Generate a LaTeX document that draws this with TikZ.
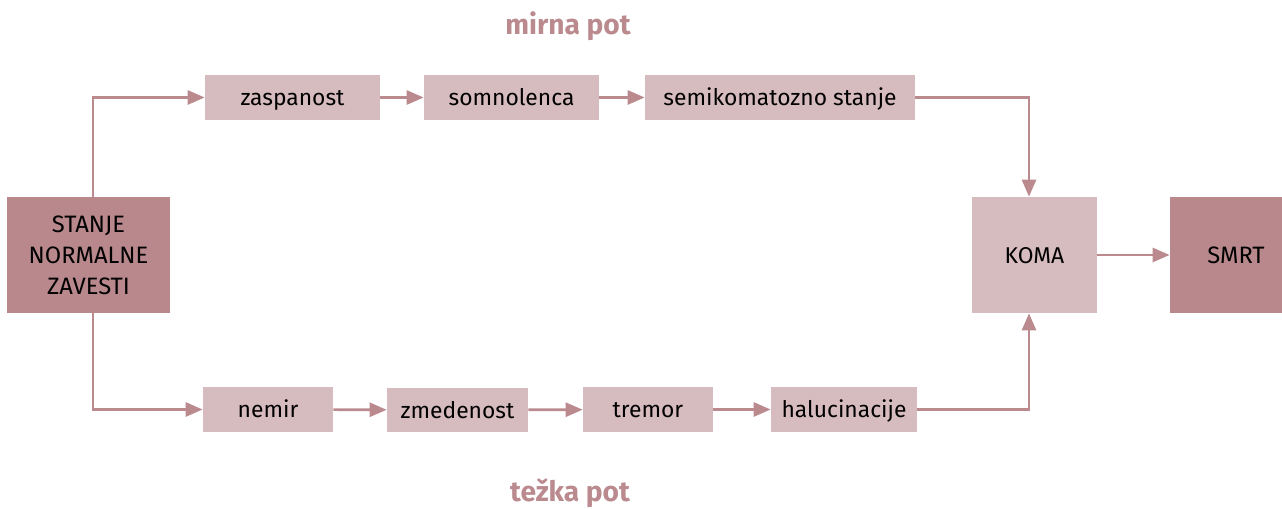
\documentclass[tikz,border=0pt]{standalone}
\usepackage{fontspec}
\setmainfont{Fira Sans}
\usetikzlibrary{arrows.meta}
\definecolor{temna}{HTML}{B8888C}
\definecolor{svetla}{HTML}{D7BCBF}
\definecolor{crta}{HTML}{BA8A8F}
\tikzset{
  korak/.style={fill=svetla, minimum height=0.9cm, inner sep=0pt, text height=2.2ex, text depth=0.45ex, font=\fontsize{13}{15}\selectfont},
  stanje/.style={fill=temna, minimum width=3.26cm, minimum height=2.32cm, inner sep=0pt, align=center, font=\fontsize{13.5}{17.6}\selectfont},
  pot/.style={text=crta, font=\fontsize{16}{18}\selectfont\bfseries},
  puscica/.style={draw=crta, line width=1.5pt, -{Triangle[length=0.34cm,width=0.28cm]}}
}
\begin{document}
\begin{tikzpicture}[x=0.02cm, y=-0.02cm]
		\useasboundingbox (0,0) rectangle (1282,509);
		\node[pot] (mirna) at (568,26) {mirna pot};
		\node[pot] (tezka) at (570,493) {težka pot};
		\node[stanje] (zavest) at (88.5,255) {STANJE\\NORMALNE\\ZAVESTI};
		\node[korak, minimum width=3.5cm] (zaspanost) at (292.5,97.5) {zaspanost};
		\node[korak, minimum width=3.5cm] (somnolenca) at (511.5,97.5) {somnolenca};
		\node[korak, minimum width=5.4cm] (semikoma) at (780,97.5) {semikomatozno stanje};
		\node[korak, minimum width=2.5cm, minimum height=2.32cm] (koma) at (1034.5,255) {KOMA};
		\node[stanje, minimum width=2.24cm] (smrt) at (1226,255) {\hspace*{0.4cm}SMRT};
		\node[korak, minimum width=2.6cm] (nemir) at (268,409.5) {nemir};
		\node[korak, minimum width=2.82cm] (zmedenost) at (457.5,410) {zmedenost};
		\node[korak, minimum width=2.6cm] (tremor) at (648,409.5) {tremor};
		\node[korak, minimum width=2.92cm] (halucinacije) at (844,409.5) {halucinacije};
		% mirna pot
		\draw[puscica] (zavest.north -| 93,0) |- (zaspanost.west);
		\draw[puscica] (zaspanost) -- (somnolenca);
		\draw[puscica] (somnolenca) -- (semikoma);
		\draw[puscica] (semikoma.east) -| (koma.north -| 1029,0);
		% tezka pot
		\draw[puscica] (zavest.south -| 93,0) |- (nemir.west);
		\draw[puscica] (nemir) -- (zmedenost);
		\draw[puscica] (zmedenost) -- (tremor);
		\draw[puscica] (tremor) -- (halucinacije);
		\draw[puscica] (halucinacije.east) -| (koma.south -| 1029,0);
		\draw[puscica] (koma) -- (smrt);
\end{tikzpicture}
\end{document}
